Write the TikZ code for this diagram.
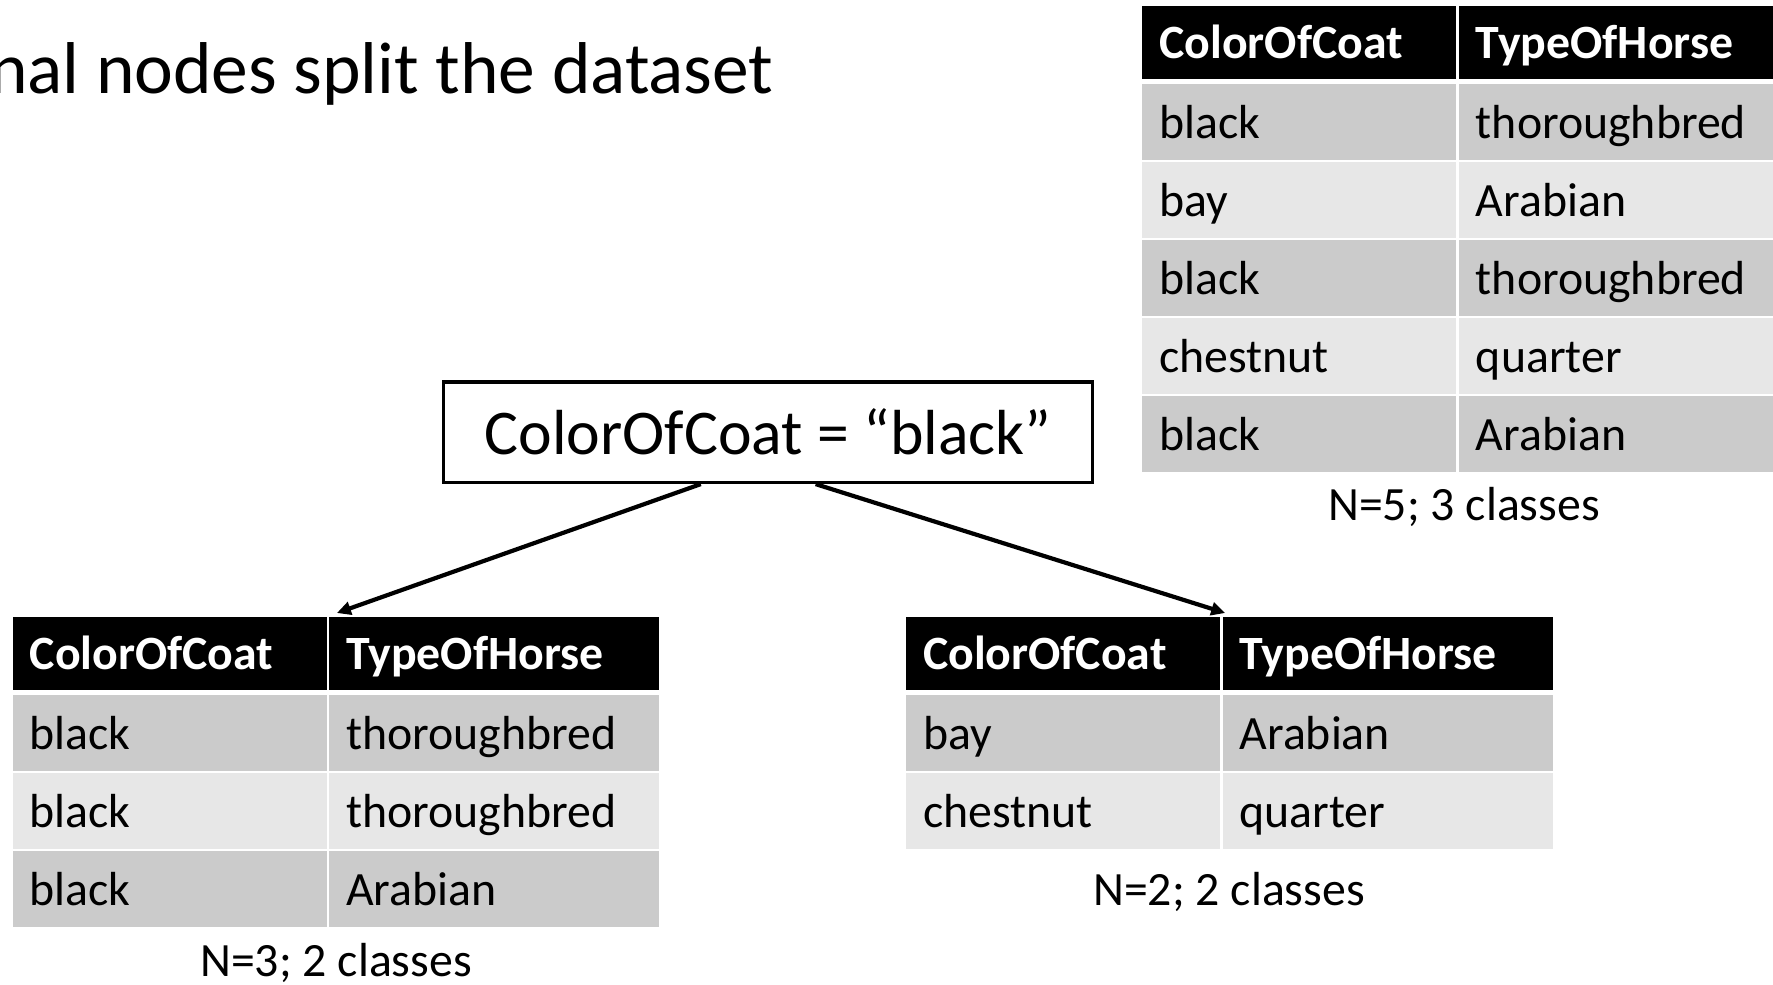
\documentclass[tikz,border=0pt]{standalone}
\usepackage{fontspec}
\setmainfont{Carlito}
\usetikzlibrary{arrows.meta,calc}

\definecolor{rowdark}{RGB}{203,203,203}
\definecolor{rowlight}{RGB}{231,231,231}

\newcommand\cellfont{\fontsize{23.9}{28}\selectfont}

\tikzset{
  cell/.style={rectangle, anchor=north west, inner xsep=8.5pt, inner ysep=0pt,
    text height=18pt, text depth=2pt, align=left, font=\cellfont},
  colA/.style={text width=140pt},
  colB/.style={text width=148pt},
  headrow/.style={cell, fill=black, text=white, font=\cellfont\bfseries, minimum height=36.5pt},
  darkrow/.style={cell, fill=rowdark, minimum height=38pt},
  lightrow/.style={cell, fill=rowlight, minimum height=38pt},
  rootbox/.style={rectangle, draw=black, line width=1.8pt, inner sep=0pt,
    minimum width=324.5pt, minimum height=50.3pt, font=\fontsize{31.85}{38}\selectfont},
  conn/.style={line width=2.1pt, -{Triangle[length=7pt,width=6.5pt]}},
  caption/.style={anchor=base, font=\cellfont},
}

\begin{document}
\begin{tikzpicture}[x=0.5pt,y=-0.5pt]
\useasboundingbox (0,0) rectangle (1773,985);

% heading
\node[anchor=base east, inner sep=0pt, font=\fontsize{36.7}{44}\selectfont] (title) at (774,93)
  {nal nodes split the dataset};

% full dataset (top right)
\node[headrow, colA] (T-h1) at (1142,6) {ColorOfCoat};
\node[headrow, colB] (T-h2) at (1458.5,6) {TypeOfHorse};
\foreach \a/\b/\s [count=\i] in {black/thoroughbred/darkrow, bay/Arabian/lightrow,
    black/thoroughbred/darkrow, chestnut/quarter/lightrow, black/Arabian/darkrow} {
  \node[\s, colA] (T-\i-1) at (1142, 6+78*\i) {\a};
  \node[\s, colB] (T-\i-2) at (1458.5, 6+78*\i) {\b};
}
\node[caption] (T-n) at (1464,520) {N=5; 3 classes};

% split test
\node[rootbox] (root) at (768,432) {ColorOfCoat = “black”};

% left branch
\node[headrow, colA] (L-h1) at (12.4,617) {ColorOfCoat};
\node[headrow, colB] (L-h2) at (328.9,617) {TypeOfHorse};
\foreach \a/\b/\s [count=\i] in {black/thoroughbred/darkrow, black/thoroughbred/lightrow,
    black/Arabian/darkrow} {
  \node[\s, colA] (L-\i-1) at (12.4, 617+78*\i) {\a};
  \node[\s, colB] (L-\i-2) at (328.9, 617+78*\i) {\b};
}
\node[caption] (L-n) at (336,976.5) {N=3; 2 classes};

% right branch
\node[headrow, colA] (R-h1) at (905.7,617) {ColorOfCoat};
\node[headrow, colB] (R-h2) at (1222.2,617) {TypeOfHorse};
\foreach \a/\b/\s [count=\i] in {bay/Arabian/darkrow, chestnut/quarter/lightrow} {
  \node[\s, colA] (R-\i-1) at (905.7, 617+78*\i) {\a};
  \node[\s, colB] (R-\i-2) at (1222.2, 617+78*\i) {\b};
}
\node[caption] (R-n) at (1229,905) {N=2; 2 classes};

% branches
\draw[conn] ($(root.south west)!0.397!(root.south east)$) -- ([xshift=4pt,yshift=2pt]L-h2.north west);
\draw[conn] ($(root.south west)!0.573!(root.south east)$) -- ([xshift=1.5pt,yshift=2pt]R-h2.north west);
\end{tikzpicture}
\end{document}
